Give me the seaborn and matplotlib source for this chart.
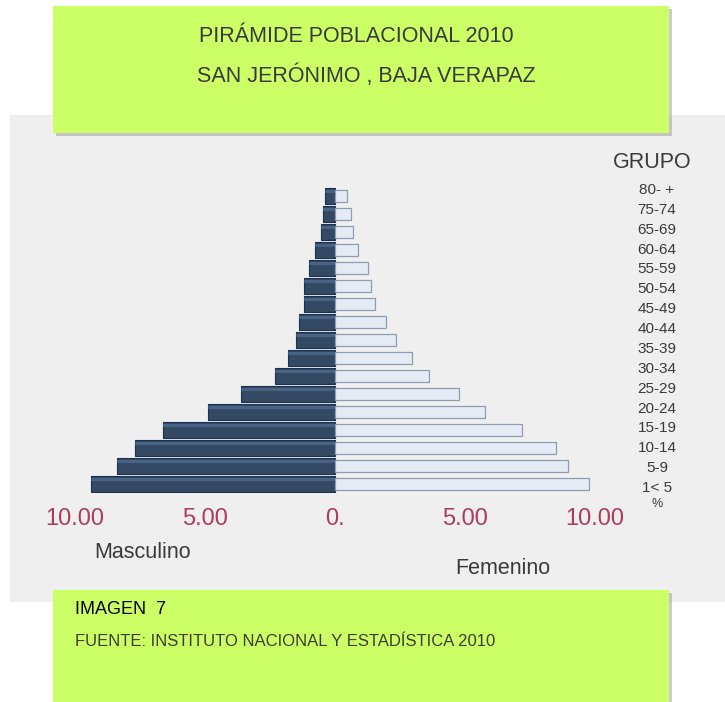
import matplotlib

matplotlib.use("Agg")
import matplotlib.pyplot as plt
import pandas as pd
import seaborn as sns
from matplotlib.patches import Rectangle

# barras de arriba hacia abajo (17 grupos quinquenales)
barras = ["80+", "75-79", "70-74", "65-69", "60-64", "55-59", "50-54", "45-49",
          "40-44", "35-39", "30-34", "25-29", "20-24", "15-19", "10-14", "5-9", "0-4"]
masculino = [0.37, 0.45, 0.55, 0.75, 1.0, 1.2, 1.2, 1.4, 1.5, 1.8, 2.3, 3.6, 4.9, 6.6, 7.7, 8.4, 9.4]
femenino = [0.48, 0.63, 0.7, 0.9, 1.25, 1.4, 1.55, 1.95, 2.35, 2.95, 3.6, 4.75, 5.75, 7.2, 8.5, 8.95, 9.75]

# etiquetas tal como aparecen en la imagen
grupos = ["80- +", "75-74", "65-69", "60-64", "55-59", "50-54", "45-49", "40-44",
          "35-39", "30-34", "25-29", "20-24", "15-19", "10-14", "5-9", "1< 5"]
ticks = [-10, -5, 0, 5, 10]
tick_labels = ["10.00", "5.00", "0.", "5.00", "10.00"]

W, H = 725, 702
VERDE = "#ccff66"
TEXTO = "#3a3a3a"

sns.set_style("white")
plt.rcParams["font.family"] = ["Liberation Sans", "DejaVu Sans"]


def fx(x):
    return x / W


def fy(y):
    return 1 - y / H


df = pd.DataFrame({
    "barra": barras * 2,
    "sexo": ["Masculino"] * len(barras) + ["Femenino"] * len(barras),
    "valor": [-v for v in masculino] + femenino,
})

fig = plt.figure(figsize=(W / 100, H / 100), dpi=100)
fig.patch.set_facecolor("white")

# fondos: panel gris y cajas verdes
fig.patches.append(Rectangle((fx(10), fy(602)), fx(715), 487 / H, transform=fig.transFigure,
                             facecolor="#efefef", edgecolor="none", zorder=-3))
for y0, y1 in [(6, 133), (590, 702)]:
    fig.patches.append(Rectangle((fx(56), fy(y1 + 3)), fx(616), (y1 - y0) / H, transform=fig.transFigure,
                                 facecolor="#9a9a9a", edgecolor="none", alpha=0.5, zorder=-2))
    fig.patches.append(Rectangle((fx(53), fy(y1)), fx(616), (y1 - y0) / H, transform=fig.transFigure,
                                 facecolor=VERDE, edgecolor="none", zorder=-1))

ax = fig.add_axes([fx(20), fy(493), fx(630), 306 / H])
ax.set_facecolor("none")
ax.set_zorder(1)

sns.barplot(data=df, x="valor", y="barra", hue="sexo", order=barras,
            hue_order=["Masculino", "Femenino"],
            palette={"Masculino": "#2b486c", "Femenino": "#e2eaf7"},
            orient="h", dodge=False, width=0.9, errorbar=None, legend=False, ax=ax)

# estilo de barras: brillo en las masculinas, borde gris en las femeninas
for p in ax.containers[0]:
    p.set_edgecolor("#1b3150")
    p.set_linewidth(0.8)
    x, y, w, h = p.get_x(), p.get_y(), p.get_width(), p.get_height()
    ax.add_patch(Rectangle((x, y + h * 0.12), w, h * 0.22, facecolor="#5b7aa0",
                           edgecolor="none", alpha=0.55))
for p in ax.containers[1]:
    y, h = p.get_y(), p.get_height()
    p.set_y(y + h * 0.15)
    p.set_height(h * 0.75)
    p.set_edgecolor("#8f9db2")
    p.set_linewidth(0.9)

ax.set_xlim(-12.115, 12.115)
ax.set_ylim(len(barras) - 0.5, -0.5)
ax.set_xticks(ticks, tick_labels)
ax.set_xticks([-5, 5], minor=True)
ax.tick_params(axis="x", which="major", length=0, labelsize=17, labelcolor="#ab3d5a", pad=11)
ax.tick_params(axis="x", which="minor", direction="in", length=11, width=1.3, color="#222222")
ax.set_yticks([])
ax.set_xlabel("")
ax.set_ylabel("")
sns.despine(ax=ax, left=True, bottom=True)

# títulos
fig.text(fx(356), fy(36), "PIRÁMIDE POBLACIONAL 2010", ha="center", va="center",
         fontsize=15.5, color=TEXTO)
fig.text(fx(366), fy(76), "SAN JERÓNIMO , BAJA VERAPAZ", ha="center", va="center",
         fontsize=15.5, color=TEXTO)

# etiquetas de grupo
fig.text(fx(652), fy(163), "GRUPO", ha="center", va="center", fontsize=15.5, color=TEXTO)
n = len(grupos)
for i, g in enumerate(grupos):
    ypx = 190 + i * (488 - 190) / (n - 1)
    fig.text(fx(657), fy(ypx), g, ha="center", va="center", fontsize=11, color=TEXTO)
fig.text(fx(657), fy(504), "%", ha="center", va="center", fontsize=9, color=TEXTO)

fig.text(fx(143), fy(553), "Masculino", ha="center", va="center", fontsize=15.5, color=TEXTO)
fig.text(fx(503), fy(568), "Femenino", ha="center", va="center", fontsize=15.5, color=TEXTO)

# pie
fig.text(fx(75), fy(610), "IMAGEN  7", ha="left", va="center", fontsize=13, color="black")
fig.text(fx(75), fy(641), "FUENTE: INSTITUTO NACIONAL Y ESTADÍSTICA 2010", ha="left", va="center",
         fontsize=12, color="#3d3d2e")

fig.savefig("out.png", dpi=100)
